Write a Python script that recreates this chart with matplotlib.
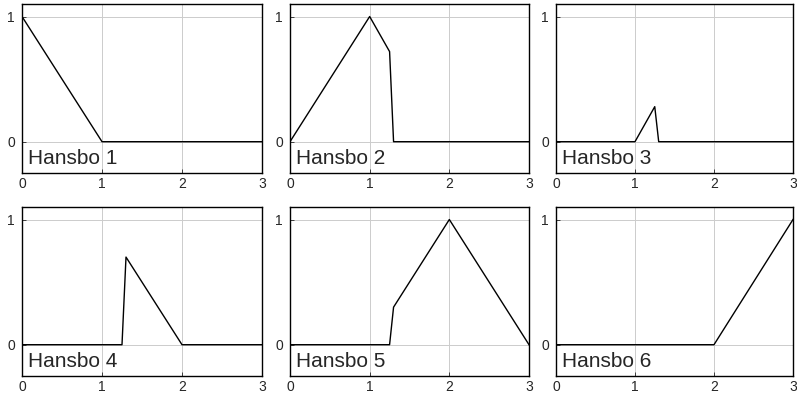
import matplotlib
matplotlib.use('Agg')
import matplotlib.pyplot as plt

plt.rcParams['font.family'] = ['Liberation Sans', 'DejaVu Sans']

# Hansbo basis functions: breakpoints (x) and values (y)
X = [
    [0, 1, 3],
    [0, 1, 1.25, 1.3, 3],
    [0, 1, 1.25, 1.3, 3],
    [0, 1.25, 1.3, 2, 3],
    [0, 1.25, 1.3, 2, 3],
    [0, 2, 3],
]
Y = [
    [1, 0, 0],
    [0, 1, 0.72, 0, 0],
    [0, 0, 0.28, 0, 0],
    [0, 0, 0.7, 0, 0],
    [0, 0, 0.3, 1, 0],
    [0, 0, 1],
]
labels = [f"Hansbo {i}" for i in range(1, 7)]

fig = plt.figure(figsize=(7.97, 3.95), dpi=100)
fig.patch.set_facecolor('white')

W, H = 797, 395
lefts = [22, 290, 556]
widths = [240, 239, 237]
tops = [4, 207]
ah = 169

for k in range(6):
    r, c = divmod(k, 3)
    ax = fig.add_axes([lefts[c] / W, 1 - (tops[r] + ah) / H,
                       widths[c] / W, ah / H])
    ax.plot(X[k], Y[k], color='black', linewidth=1.0)
    ax.set_xlim(0, 3)
    ax.set_ylim(-0.25, 1.1)
    ax.set_xticks([0, 1, 2, 3])
    ax.set_yticks([0, 1])
    ax.grid(True, color='#cccccc', linewidth=0.7)
    ax.tick_params(direction='in', length=3, labelsize=10, width=0.6,
                   colors='#262626')
    ax.tick_params(axis='x', pad=3)
    ax.tick_params(axis='y', pad=5)
    for s in ax.spines.values():
        s.set_linewidth(1.0)
    ax.text(0.08, -0.18, labels[k], fontsize=15, color='#262626',
            ha='left', va='baseline')

fig.savefig('out.png', dpi=100, facecolor='white')
